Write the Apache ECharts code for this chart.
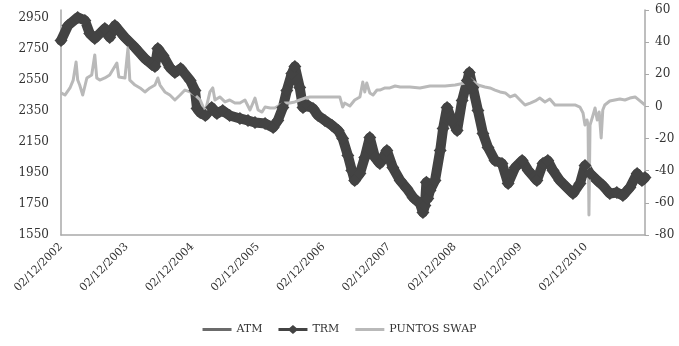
<!DOCTYPE html>
<html>
<head>
<meta charset="utf-8">
<script src="https://cdn.jsdelivr.net/npm/echarts@6/dist/echarts.min.js"></script>
<style>
  html, body { margin: 0; padding: 0; background: #ffffff; }
  #chart { width: 679px; height: 346px; }
</style>
</head>
<body>
<div id="chart"></div>
<script>
// Tasa representativa del mercado (COP por USD), eje izquierdo
const trmDates = [
  '2002-12-02','2003-01-10','2003-03-05','2003-04-14','2003-05-11','2003-06-08','2003-08-03','2003-08-30',
  '2003-09-28','2003-11-23','2004-01-18','2004-03-13','2004-04-21','2004-05-08','2004-05-24','2004-06-22',
  '2004-07-30','2004-08-27','2004-09-28','2004-11-20','2004-12-17','2004-12-28','2005-01-15','2005-02-12',
  '2005-03-20','2005-04-18','2005-05-20','2005-06-28','2005-08-24','2005-10-08','2005-11-16','2006-01-11',
  '2006-02-25','2006-03-23','2006-04-20','2006-05-12','2006-06-09','2006-06-26','2006-07-23','2006-08-10',
  '2006-09-07','2006-10-05','2006-11-02','2006-12-10','2007-01-19','2007-02-22','2007-03-19','2007-04-17',
  '2007-05-09','2007-05-25','2007-06-23','2007-07-20','2007-08-17','2007-09-15','2007-10-12','2007-11-20',
  '2007-12-23','2008-02-02','2008-03-10','2008-04-14','2008-05-22','2008-06-08','2008-06-19','2008-06-27',
  '2008-07-05','2008-07-17','2008-08-14','2008-09-12','2008-09-28','2008-10-20','2008-11-17','2008-12-15',
  '2009-01-12','2009-02-10','2009-02-21','2009-03-13','2009-04-10','2009-05-08','2009-06-05','2009-07-14',
  '2009-08-22','2009-09-25','2009-11-03','2009-12-12','2010-01-15','2010-03-04','2010-04-07','2010-05-04',
  '2010-06-02','2010-07-10','2010-08-18','2010-09-21','2010-10-30','2010-11-27','2010-12-25','2011-02-03',
  '2011-03-06','2011-04-14','2011-05-23','2011-06-26','2011-08-04','2011-09-13','2011-10-10','2011-10-27'
];
const trmValues = [
  2803, 2900, 2952, 2933, 2848, 2816, 2881, 2823,
  2900, 2823, 2758, 2687, 2649, 2636, 2752, 2707,
  2629, 2597, 2623, 2546, 2481, 2365, 2339, 2320,
  2372, 2333, 2352, 2320, 2301, 2288, 2275, 2269,
  2243, 2288, 2372, 2481, 2591, 2636, 2500, 2372,
  2384, 2365, 2320, 2288, 2256, 2223, 2172, 2062,
  1966, 1901, 1946, 2049, 2178, 2049, 2011, 2095,
  1985, 1901, 1850, 1792, 1753, 1695, 1740, 1890,
  1785, 1837, 1901, 2095, 2236, 2372, 2288, 2223,
  2417, 2546, 2597, 2500, 2352, 2204, 2114, 2030,
  2011, 1882, 1985, 2030, 1966, 1901, 2011, 2030,
  1966, 1901, 1856, 1817, 1882, 1998, 1946, 1901,
  1869, 1817, 1824, 1805, 1856, 1946, 1901, 1920
];
// La serie ATM corre bajo la banda de la TRM
const atmValues = trmValues.slice();

// Puntos swap, eje derecho
const swapDates = [
  '2002-12-02','2002-12-24','2003-01-21','2003-02-08','2003-02-24','2003-03-05','2003-03-16','2003-04-02',
  '2003-04-25','2003-05-22','2003-06-08','2003-06-19','2003-07-06','2003-08-03','2003-08-30','2003-10-09',
  '2003-10-20','2003-11-23','2003-12-10','2003-12-20','2004-01-18','2004-02-15','2004-03-13','2004-04-10',
  '2004-05-08','2004-05-24','2004-06-05','2004-07-02','2004-07-30','2004-08-27','2004-09-25','2004-10-22',
  '2004-11-20','2004-12-17','2005-01-15','2005-02-12','2005-03-10','2005-03-26','2005-04-07','2005-05-04',
  '2005-06-02','2005-06-28','2005-07-27','2005-08-24','2005-09-21','2005-10-19','2005-11-16','2005-12-03',
  '2005-12-25','2006-01-11','2006-02-09','2006-03-06','2006-04-04','2006-04-29','2006-05-28','2006-06-26',
  '2006-07-23','2006-08-21','2006-09-18','2006-11-13','2007-01-08','2007-03-03','2007-03-19','2007-03-30',
  '2007-04-28','2007-05-25','2007-06-23','2007-07-09','2007-07-20','2007-07-31','2007-08-17','2007-09-04',
  '2007-09-26','2007-10-12','2007-11-10','2007-12-07','2008-01-05','2008-02-02','2008-03-27','2008-05-22',
  '2008-07-17','2008-09-12','2008-10-09','2008-12-04','2009-01-29','2009-02-15','2009-03-07','2009-04-10',
  '2009-05-19','2009-06-16','2009-07-14','2009-08-11','2009-09-09','2009-10-06','2009-11-03','2009-11-30',
  '2009-12-28','2010-01-26','2010-02-23','2010-03-20','2010-04-18','2010-05-15','2010-06-13','2010-07-10',
  '2010-08-08','2010-09-05','2010-10-02','2010-10-30','2010-11-16','2010-11-27','2010-12-08','2010-12-14',
  '2010-12-19','2010-12-25','2011-01-11','2011-01-22','2011-02-03','2011-02-14','2011-02-25','2011-03-06',
  '2011-03-17','2011-04-14','2011-05-12','2011-06-09','2011-07-07','2011-08-04','2011-09-02','2011-09-29',
  '2011-10-27'
];
const swapValues = [
  8.4, 7.1, 11.5, 16.4, 27.6, 16.4, 13.3, 7.1,
  17.7, 19.6, 32.0, 17.7, 16.4, 17.7, 19.6, 27.0,
  18.3, 17.7, 36.4, 16.4, 13.3, 11.5, 9.0, 11.5,
  13.3, 17.7, 13.3, 9.0, 7.1, 4.0, 7.1, 10.2,
  9.0, 7.1, 4.0, -3.5, 9.0, 11.5, 4.0, 5.9,
  2.8, 4.0, 2.1, 2.1, 4.0, -2.2, 5.2, -2.2,
  -3.5, -0.4, -1.0, -1.0, 0.9, 2.1, 2.1, 2.8,
  4.0, 5.2, 5.9, 5.9, 5.9, 5.9, -0.4, 2.1,
  0.3, 4.0, 5.9, 15.2, 9.0, 14.6, 8.4, 7.1,
  10.2, 10.2, 11.5, 11.5, 12.7, 12.1, 12.1, 11.5,
  12.7, 12.7, 12.7, 13.3, 14.6, 18.3, 16.4, 13.3,
  12.1, 11.5, 10.2, 9.0, 8.4, 5.9, 7.1, 4.0,
  0.9, 2.1, 3.4, 5.2, 2.8, 4.6, 0.9, 0.9,
  0.9, 0.9, 0.9, -0.4, -4.1, -11.6, -8.4, -11.6,
  -67.6, -11.6, -5.3, -1.0, -8.4, -3.5, -19.6, -2.2,
  0.9, 3.4, 4.0, 4.6, 4.0, 5.2, 5.9, 3.4,
  0.9
];

// Etiquetas de los ejes
const leftTicks = [1550, 1750, 1950, 2150, 2350, 2550, 2750, 2950];
const dateTicks = ['2002-12-02','2003-12-02','2004-12-02','2005-12-02','2006-12-02',
                   '2007-12-02','2008-12-02','2009-12-02','2010-12-02'];
const seriesNames = ['ATM', 'TRM', 'PUNTOS SWAP'];
const dateRange = ['2002-12-02', '2011-10-27'];

// Fechas como marcas de tiempo locales
const toTime = s => {
  const [y, m, d] = s.split('-').map(Number);
  return new Date(y, m - 1, d).getTime();
};
const pad = n => (n < 10 ? '0' : '') + n;
const pairs = (dates, values) => dates.map((d, i) => [toTime(d), values[i]]);

const FONT = 'DejaVu Serif';
const TEXT = '#333333';
const AXIS = '#a9a9a9';
const C_ATM = '#6b6b6b';
const C_TRM = '#434343';
const C_SWAP = '#b9b9b9';

// Iconos de la leyenda: trazo simple y trazo con rombo central
const LINE_ICON = 'path://M0,0 L29,0 L29,3 L0,3 Z';
const DIAMOND_ICON = 'path://M0,3 L11,3 L14.5,0 L18,3 L29,3 L29,6 L18,6 L14.5,9 L11,6 L0,6 Z';

const chart = echarts.init(document.getElementById('chart'), null, { renderer: 'canvas' });
chart.setOption({
  animation: false,
  backgroundColor: '#ffffff',
  grid: { left: 61, right: 34, top: 10, bottom: 111, containLabel: false },
  legend: {
    bottom: 6,
    left: 'center',
    itemWidth: 29,
    itemHeight: 9,
    itemGap: 16,
    textStyle: { fontFamily: FONT, fontSize: 11, color: TEXT },
    data: [
      { name: seriesNames[0], icon: LINE_ICON, itemStyle: { color: C_ATM } },
      { name: seriesNames[1], icon: DIAMOND_ICON, itemStyle: { color: C_TRM } },
      { name: seriesNames[2], icon: LINE_ICON, itemStyle: { color: C_SWAP } }
    ]
  },
  xAxis: {
    type: 'value',
    min: toTime(dateRange[0]),
    max: toTime(dateRange[1]),
    axisLine: { show: true, onZero: false, lineStyle: { color: AXIS, width: 1.5 } },
    axisTick: { show: false },
    splitLine: { show: false },
    axisLabel: {
      customValues: dateTicks.map(toTime),
      rotate: 45,
      margin: 10,
      fontFamily: FONT,
      fontSize: 11,
      color: TEXT,
      formatter: v => {
        const d = new Date(v);
        return pad(d.getDate()) + '/' + pad(d.getMonth() + 1) + '/' + d.getFullYear();
      }
    }
  },
  yAxis: [
    {
      type: 'value',
      position: 'left',
      min: 1550,
      max: 3000,
      axisLine: { show: true, lineStyle: { color: AXIS, width: 1.5 } },
      axisTick: { show: false },
      splitLine: { show: false },
      axisLabel: {
        customValues: leftTicks,
        margin: 12,
        fontFamily: FONT,
        fontSize: 12,
        color: TEXT,
        formatter: v => String(v)
      }
    },
    {
      type: 'value',
      position: 'right',
      min: -80,
      max: 60,
      interval: 20,
      axisLine: { show: true, lineStyle: { color: AXIS, width: 1.5 } },
      axisTick: { show: true, length: 4, lineStyle: { color: AXIS } },
      splitLine: { show: false },
      axisLabel: { margin: 10, fontFamily: FONT, fontSize: 12, color: TEXT }
    }
  ],
  series: [
    {
      name: seriesNames[0],
      type: 'line',
      yAxisIndex: 0,
      data: pairs(trmDates, atmValues),
      symbol: 'none',
      color: C_ATM,
      lineStyle: { width: 3, color: C_ATM }
    },
    {
      name: seriesNames[1],
      type: 'line',
      yAxisIndex: 0,
      data: pairs(trmDates, trmValues),
      symbol: 'diamond',
      symbolSize: 13,
      showAllSymbol: true,
      color: C_TRM,
      itemStyle: { color: C_TRM },
      lineStyle: { width: 10, color: C_TRM, join: 'round', cap: 'round' }
    },
    {
      name: seriesNames[2],
      type: 'line',
      yAxisIndex: 1,
      data: pairs(swapDates, swapValues),
      symbol: 'none',
      color: C_SWAP,
      lineStyle: { width: 3, color: C_SWAP, join: 'round' }
    }
  ]
});
</script>
</body>
</html>
